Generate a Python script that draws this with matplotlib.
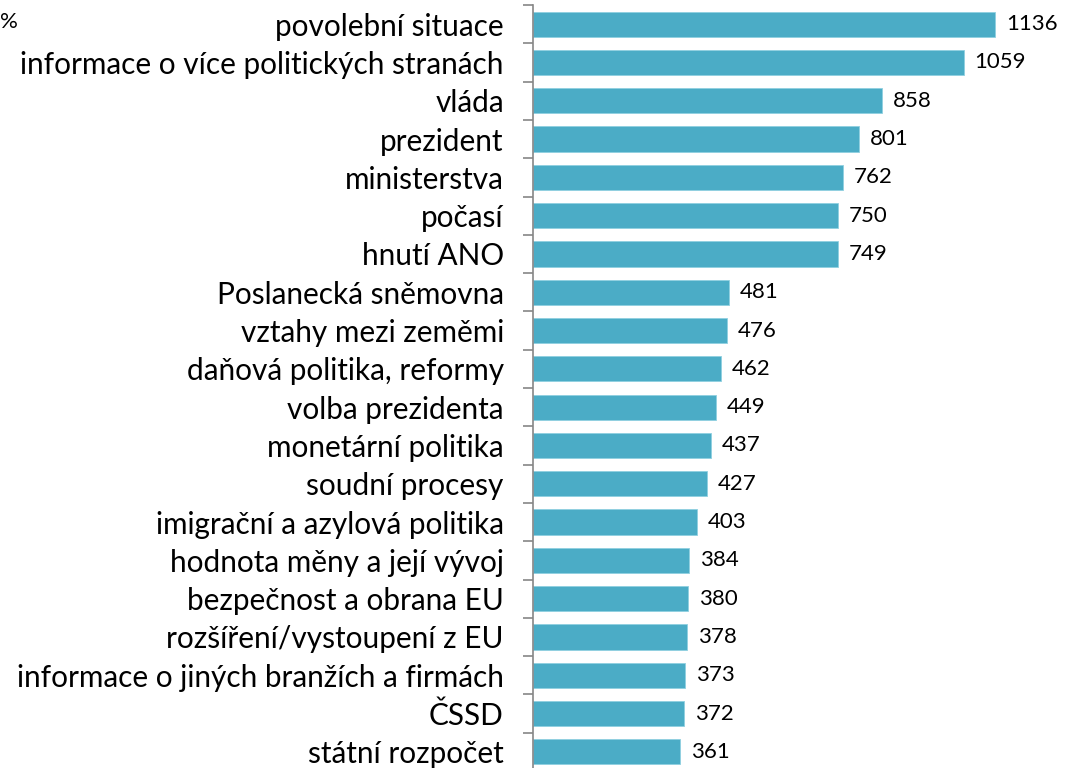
import matplotlib.pyplot as plt
import numpy as np

plt.rcParams['font.family'] = ['Lato', 'DejaVu Sans']

categories = [
    "povolební situace",
    "informace o více politických stranách",
    "vláda",
    "prezident",
    "ministerstva",
    "počasí",
    "hnutí ANO",
    "Poslanecká sněmovna",
    "vztahy mezi zeměmi",
    "daňová politika, reformy",
    "volba prezidenta",
    "monetární politika",
    "soudní procesy",
    "imigrační a azylová politika",
    "hodnota měny a její vývoj",
    "bezpečnost a obrana EU",
    "rozšíření/vystoupení z EU",
    "informace o jiných branžích a firmách",
    "ČSSD",
    "státní rozpočet",
]
values = [1136, 1059, 858, 801, 762, 750, 749, 481, 476, 462,
          449, 437, 427, 403, 384, 380, 378, 373, 372, 361]

bar_color = '#4BACC6'
axis_gray = '#868686'

fig = plt.figure(figsize=(10.75, 7.68), dpi=100)
ax = fig.add_axes([533 / 1075, -3 / 768, 1 - 533 / 1075, 766 / 768])

y = np.arange(len(categories))
bars = ax.barh(y, values, height=0.66, color=bar_color, edgecolor='#8fd0e0', linewidth=0.6)
ax.bar_label(bars, labels=[str(v) for v in values], padding=8, fontsize=16, color='black')

ax.set_ylim(len(categories) - 0.5, -0.5)
ax.set_xlim(0, 1333)

# labels sit between boundary ticks
ax.set_yticks(np.arange(-0.5, len(categories) + 0.5, 1))
ax.set_yticklabels([])
ax.tick_params(axis='y', which='major', length=7.2, width=1.2, color=axis_gray, direction='out')
ax.set_yticks(y, minor=True)
ax.set_yticklabels(categories, minor=True, fontsize=21.4)
ax.tick_params(axis='y', which='minor', length=0, pad=21)

ax.set_xticks([])
for side in ['top', 'right', 'bottom']:
    ax.spines[side].set_visible(False)
ax.spines['left'].set_color(axis_gray)
ax.spines['left'].set_linewidth(1.2)

fig.text(0.0, 1 - 22 / 768, '%', fontsize=16, va='center', ha='left')

fig.savefig('out.png', dpi=100)
